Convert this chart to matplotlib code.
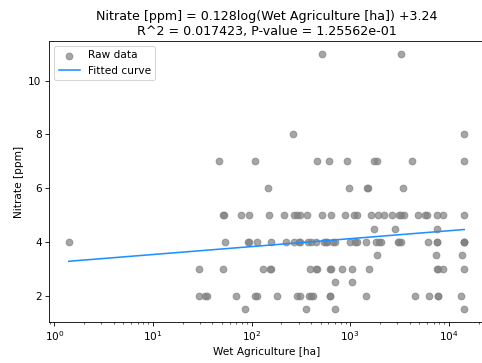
import numpy as np
import matplotlib
matplotlib.use("Agg")
import matplotlib.pyplot as plt

# wet agriculture area [ha] of each site, grouped by its nitrate reading [ppm]
nitrate_levels = [11, 8, 7, 6, 5, 4.5, 4, 3.5, 3, 2.5, 2, 1.5]
wet_ag_by_level = [
    [511, 3300],
    [263, 14300],
    [47, 109, 464, 609, 936, 1720, 1845, 4270, 14100],
    [146, 980, 1470, 1520, 3460],
    [51, 52, 78, 95, 149, 215, 271, 290, 312, 362, 511, 631, 875,
     1090, 1180, 1620, 1900, 2200, 2680, 3150, 3300, 3530, 4900,
     5700, 6050, 7550, 8650, 14300],
    [1750, 2850, 7550],
    [1.4, 54, 91, 95, 114, 158, 222, 268, 305, 310, 372, 398, 447, 540,
     562, 585, 671, 704, 1000, 1110, 1180, 1440, 1810, 1960, 2040, 3020,
     3150, 3250, 6200, 7550, 7550, 14300, 14300, 14300],
    [1845, 7400, 13500],
    [29, 51, 131, 155, 158, 388, 446, 464, 617, 645, 815, 1050, 1560,
     7550, 7800, 8650, 14300],
    [694, 1050],
    [29, 34, 35.5, 69, 107, 113, 182, 290, 312, 381, 400, 419, 625, 625,
     1460, 4550, 6300, 7800, 7800, 13200],
    [85, 355, 694, 14300],
]

# fitted curve: nitrate = slope*ln(area) + intercept
slope = 0.128
intercept = 3.24
r2 = 0.017423
p_value = 1.25562e-01

x = np.concatenate([np.array(v, dtype=float) for v in wet_ag_by_level])
y = np.concatenate([np.full(len(v), lev) for v, lev in zip(wet_ag_by_level, nitrate_levels)])

DPI = 76
fig = plt.figure(figsize=(482 / DPI, 363 / DPI), dpi=DPI)
# right edge of the axes sits just past the image border, like the reference
ax = fig.add_axes([49 / 482, 41 / 363, 435 / 482, 281 / 363])

ax.scatter(x, y, color="grey", alpha=0.7, s=40, label="Raw data")
xs = np.sort(x)
ax.plot(xs, slope * np.log(xs) + intercept, color="dodgerblue", label="Fitted curve")

ax.set_xscale("log")
ax.set_xlabel("Wet Agriculture [ha]")
ax.set_ylabel("Nitrate [ppm]")
ax.set_title("Nitrate [ppm] = %.3flog(Wet Agriculture [ha]) +%.2f\nR^2 = %f, P-value = %.5e"
             % (slope, intercept, r2, p_value))
ax.legend(loc="upper left")

fig.savefig("out.png", dpi=DPI)
